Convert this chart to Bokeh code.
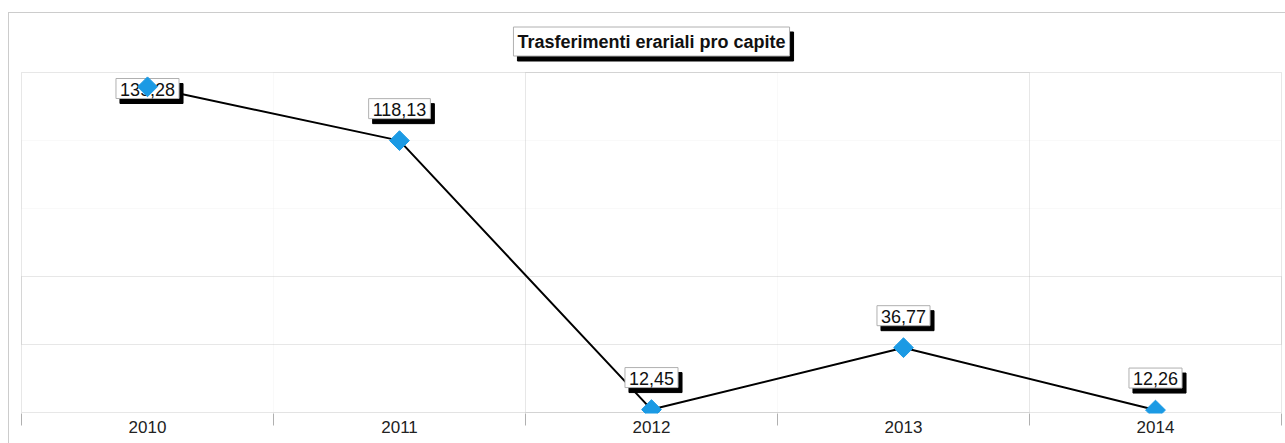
from bokeh.plotting import figure
from bokeh.models import Range1d, FixedTicker, Label, ColumnDataSource, BoxAnnotation
from bokeh.core.properties import value
from bokeh.embed import file_html
from bokeh.resources import INLINE

title_text = "Trasferimenti erariali pro capite"
years = [2010, 2011, 2012, 2013, 2014]
year_labels = ["2010", "2011", "2012", "2013", "2014"]
values = [139.28, 118.13, 12.45, 36.77, 12.26]
value_labels = ["139,28", "118,13", "12,45", "36,77", "12,26"]

# value axis extent of the plotting box
Y_MIN, Y_MAX = 11.3, 144.9
X_MIN, X_MAX = years[0] - 0.5, years[-1] + 0.5

# page geometry (pixels)
W, H = 1285, 443
BOX_L, BOX_R, BOX_T, BOX_B = 21, 1281, 72, 412
FR_L, FR_R, FR_T, FR_B = 20, 1282, 0, 413
ypx = (BOX_B - BOX_T) / (Y_MAX - Y_MIN)      # px per unit
xpx = (BOX_R - BOX_L) / (X_MAX - X_MIN)
y_start = Y_MIN - (FR_B - BOX_B) / ypx
y_end = Y_MAX + (BOX_T - FR_T) / ypx
x_start = X_MIN - (BOX_L - FR_L) / xpx
x_end = X_MAX + (FR_R - BOX_R) / xpx

FONT_NAME = "Liberation Sans"
FONT = value(FONT_NAME)
GRID = "#b0b0b0"
FAINT = "#ebebeb"
BLUE = "#1B9AE4"

p = figure(width=W, height=H, output_backend="svg", toolbar_location=None,
           x_range=Range1d(x_start, x_end), y_range=Range1d(y_start, y_end),
           min_border_left=FR_L, min_border_right=W - FR_R,
           min_border_top=FR_T, min_border_bottom=H - FR_B)
p.styles = {"box-shadow": "inset 8px 12px 0 #ffffff, inset 9px 13px 0 #cccccc"}
p.border_fill_color = None
p.background_fill_color = None
p.outline_line_color = None
p.yaxis.visible = False
p.xgrid.visible = False
p.ygrid.visible = False

xa = p.xaxis[0]
bounds = [y - 0.5 for y in years] + [years[-1] + 0.5]
xa.ticker = FixedTicker(ticks=years, minor_ticks=bounds)
xa.major_label_overrides = {y: l for y, l in zip(years, year_labels)}
xa.axis_line_color = None
xa.major_tick_line_color = None
xa.major_tick_out = 0
xa.major_tick_in = 0
xa.minor_tick_line_color = GRID
xa.minor_tick_out = 12
xa.minor_tick_in = 0
xa.major_label_standoff = -5
xa.major_label_text_font = FONT_NAME
xa.major_label_text_font_size = "17px"
xa.major_label_text_color = "#222222"

# grid and plotting box, drawn as boxes restricted to the plotting area
step = (Y_MAX - Y_MIN) / 5
for (l, r, b, t, c) in [
        (X_MIN, X_MAX, Y_MIN + 3 * step, Y_MIN + 4 * step, FAINT),
        (X_MIN + 1, X_MIN + 3, Y_MIN, Y_MAX, FAINT),
        (X_MIN, X_MAX, Y_MIN + step, Y_MIN + 2 * step, GRID),
        (X_MIN + 2, X_MIN + 4, Y_MIN, Y_MAX, GRID),
        (X_MIN, X_MAX, Y_MIN, Y_MAX, GRID)]:
    p.add_layout(BoxAnnotation(left=l, right=r, bottom=b, top=t, fill_color=None,
                               line_color=c, line_width=1, level="underlay"))

p.line(years, values, line_color="black", line_width=2)

# label offsets: text centre 32px above the point, clamped inside the box top
offs = []
for v in values:
    py = BOX_T + (Y_MAX - v) * ypx
    c = py - 32
    offs.append(-32 if c >= BOX_T + 16 else BOX_T + 16 - py)
src = ColumnDataSource(dict(x=years, y=values, label=value_labels,
                            dy=offs, dys=[o + 5 for o in offs]))

pad = dict(left=4, right=4, top=4, bottom=3)
common = dict(text="label", text_align="center", text_baseline="middle",
              text_font=FONT, text_font_size="18px", padding=pad, source=src)
p.text(x="x", y="y", x_offset=4, y_offset="dys", text_color="black",
       background_fill_color="black", border_line_color="black", **common)
p.text(x="x", y="y", x_offset=0, y_offset="dy", text_color="#111111",
       background_fill_color="white", border_line_color="#b0b0b0", **common)

p.scatter(years, values, marker="square", size=14, angle=0.785398,
          fill_color=BLUE, line_color=BLUE)

xc = (X_MIN + X_MAX) / 2
y_title = Y_MAX + (BOX_T - 41) / ypx
y_shadow = Y_MAX + (BOX_T - 46) / ypx
tcommon = dict(x=xc, text=title_text, text_align="center", text_baseline="middle",
               text_font=FONT_NAME, text_font_size="18px", text_font_style="bold",
               padding=dict(left=4, right=4, top=5, bottom=4))
p.add_layout(Label(y=y_shadow, x_offset=4, text_color="black",
                   background_fill_color="black", border_line_color="black", **tcommon))
p.add_layout(Label(y=y_title, x_offset=0, text_color="#111111",
                   background_fill_color="white", border_line_color="#b0b0b0", **tcommon))

open("out.html", "w").write(file_html(p, INLINE))
